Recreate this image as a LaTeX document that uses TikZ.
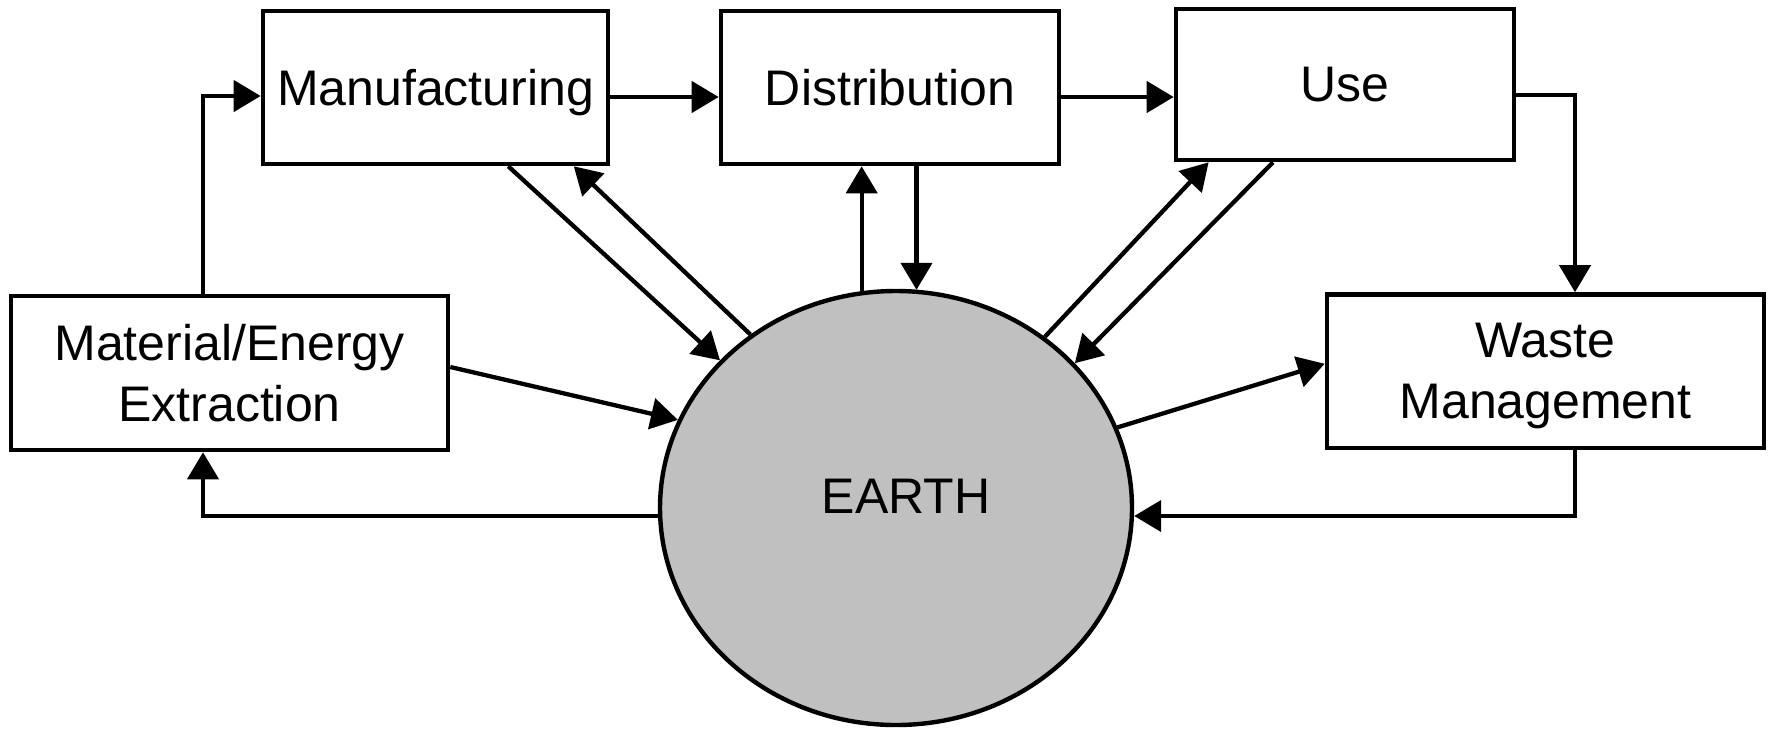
\documentclass[tikz,border=0pt]{standalone}
\usepackage{fontspec}
\setmainfont{Liberation Sans}
\usetikzlibrary{arrows.meta,shapes.geometric,calc}
\definecolor{earthgray}{HTML}{C0C0C0}
\begin{document}
\begin{tikzpicture}[x=0.5pt,y=-0.5pt,
  every node/.style={font=\fontsize{25}{30.5}\selectfont},
  box/.style={draw,line width=2.3pt,inner sep=0pt,align=center,text depth=0pt},
  conn/.style={line width=2.15pt,-{Triangle[length=13.5pt,width=15.5pt]}}]
\useasboundingbox (0,0) rectangle (1771,729);

% life-cycle stages
\node[box,minimum width=172.5pt,minimum height=76.5pt] (manu) at (435.5,87.5) {Manufacturing};
\node[box,minimum width=169pt,minimum height=76.5pt] (dist) at (890,87.5) {Distribution};
\node[box,minimum width=169pt,minimum height=75.5pt] (use) at (1345,84.5) {Use};
\node[box,minimum width=218.5pt,minimum height=77pt] (mat) at (229.5,373) {Material/Energy\\Extraction};
\node[box,minimum width=218.5pt,minimum height=76.75pt] (waste) at (1545.5,371.25) {Waste\\Management};

% the earth
\node[draw,ellipse,fill=earthgray,line width=2.2pt,inner sep=0pt,
      minimum width=236pt,minimum height=217pt] (earth) at (896,508) {};
\node[text depth=0pt,inner sep=0pt] (earthtext) at (906,496) {EARTH};

% main flow along the top
\draw[conn] ($(mat.north)+(-26.5,0)$) |- ($(manu.west)+(0,8.5)$);
\draw[conn] ($(manu.east)+(0,9.5)$) -- ($(dist.west)+(0,9.5)$);
\draw[conn] ($(dist.east)+(0,9.5)$) -- ($(use.west)+(0,12.5)$);
\draw[conn] ($(use.east)+(0,10.5)$) -| ($(waste.north)+(29.5,0)$);

% loops through the earth
\draw[conn] ($(waste.south)+(29.5,0)$) |- ($(earth.east)+(0,8)$);
\draw[conn] ($(earth.west)+(0,8)$) -| ($(mat.south)+(-26.5,0)$);
\draw[conn] ($(mat.east)+(0,-6)$) -- (earth.158.9);
\draw[conn] (earth.20) -- ($(waste.west)+(0,-7.5)$);

% exchanges between stages and the earth
\draw[conn] ($(manu.south)+(72.8,0)$) -- (earth.140.65);
\draw[conn] (earth.130.7) -- ($(manu.south)+(138.3,0)$);
\draw[conn] (earth.99.26) -- (earth.99.26 |- dist.south);
\coordinate (distout) at ($(dist.south)+(26.5,0)$);
\draw[conn] (distout) -- (distout |- earth.84.58);
\draw[conn] (earth.49.87) -- ($(use.south)+(-136.4,0)$);
\draw[conn] ($(use.south)+(-72,0)$) -- (earth.39.63);
\end{tikzpicture}
\end{document}
